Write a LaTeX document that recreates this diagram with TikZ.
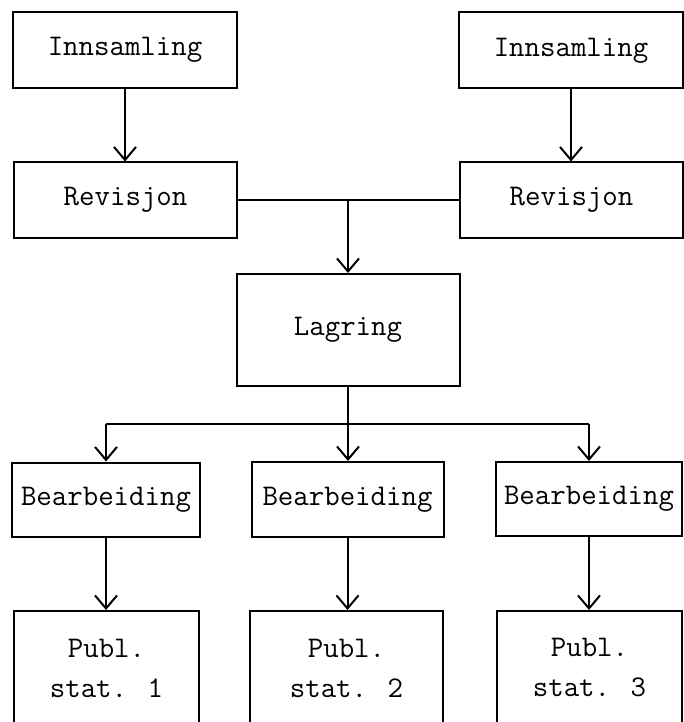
\documentclass[tikz,border=0pt]{standalone}
\usepackage{tikz}
\usetikzlibrary{arrows.meta}

\begin{document}
\begin{tikzpicture}[x=1pt, y=1pt,
  box/.style={draw, rectangle, line width=2pt, inner sep=2pt, align=center,
              font=\fontsize{30}{40}\selectfont\ttfamily},
  arr/.style={-{Straight Barb[length=13pt, width=22pt]}, line width=2pt},
  wire/.style={line width=2pt}
]
\clip (0,0) rectangle (684,-722);
\node[box, minimum width=224, minimum height=76]  (in1)  at (125,-50)   {Innsamling};
\node[box, minimum width=224, minimum height=76]  (in2)  at (571,-50.5) {Innsamling};
\node[box, minimum width=223, minimum height=75]  (rev1) at (125.5,-200) {Revisjon};
\node[box, minimum width=223, minimum height=75]  (rev2) at (571.5,-200) {Revisjon};
\node[box, minimum width=223, minimum height=112] (lag)  at (348,-330)  {Lagring};
\node[box, minimum width=188, minimum height=74]  (b1)   at (106,-499.5) {Bearbeiding};
\node[box, minimum width=192, minimum height=75]  (b2)   at (347.5,-499.5) {Bearbeiding};
\node[box, minimum width=186, minimum height=74]  (b3)   at (589,-499)   {Bearbeiding};
\node[box, minimum width=185, minimum height=114] (p1)   at (106.5,-668) {Publ.\\stat. 1};
\node[box, minimum width=193, minimum height=114] (p2)   at (346.5,-668) {Publ.\\stat. 2};
\node[box, minimum width=185, minimum height=114] (p3)   at (589.5,-668) {Publ.\\stat. 3};
\coordinate (merge) at (348,-200);
\coordinate (split) at (348,-424);
\draw[arr] (in1) -- (in1 |- rev1.north);
\draw[arr] (in2) -- (in2 |- rev2.north);
\draw[wire] (rev1.east) -- (merge) -- (rev2.west);
\draw[arr] (merge) -- (merge |- lag.north);
\draw[wire] (lag.south) -- (split);
\draw[wire] (b1 |- split) -- (b3 |- split);
\draw[arr] (b1 |- split) -- (b1.north);
\draw[arr] (split) -- (split |- b2.north);
\draw[arr] (b3 |- split) -- (b3.north);
\draw[arr] (b1) -- (b1 |- p1.north);
\draw[arr] (b2) -- (b2 |- p2.north);
\draw[arr] (b3) -- (b3 |- p3.north);
\end{tikzpicture}
\end{document}
